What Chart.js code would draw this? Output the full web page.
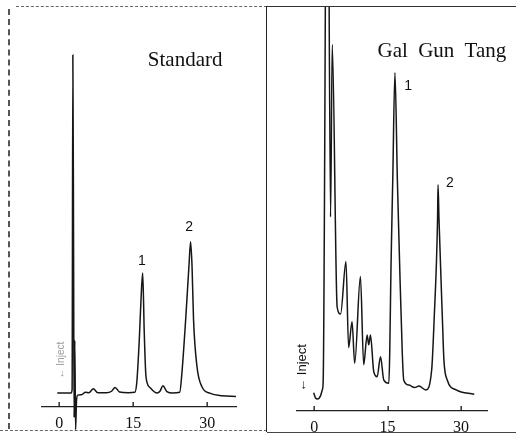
<!DOCTYPE html>
<html>
<head>
<meta charset="utf-8">
<script src="https://cdn.jsdelivr.net/npm/chart.js@4.4.1/dist/chart.umd.min.js"></script>
<style>
  html, body { margin: 0; padding: 0; background: #fff; }
  #page { position: relative; width: 516px; height: 435px; overflow: hidden; }
  canvas { position: absolute; top: 0; }
  .rule { position: absolute; }
</style>
</head>
<body>
<div id="page">
  <div class="rule" style="left:8px;top:9px;height:420px;border-left:2px dashed #555;"></div>
  <div class="rule" style="left:16px;top:6px;width:251px;border-top:1px dashed #666;"></div>
  <div class="rule" style="left:267px;top:6px;width:249px;border-top:1px solid #333;"></div>
  <div class="rule" style="left:0;top:430px;width:267px;border-top:1px dashed #666;"></div>
  <div class="rule" style="left:267px;top:432px;width:249px;border-top:1px solid #444;"></div>
  <div class="rule" style="left:266px;top:6px;height:426px;border-left:1.5px solid #222;"></div>
  <canvas id="standardChart" width="262" height="435" style="left:0"></canvas>
  <canvas id="sampleChart" width="248" height="435" style="left:268px"></canvas>
</div>
<script>
// retention time (min) and detector response (arbitrary units), Standard run
var standardTime = [-0.4, 0, 2.4, 2.6, 2.75, 2.9, 3.0, 3.15, 3.3, 3.5, 3.75, 4.5, 5.3, 6.0, 6.9, 7.8, 9.5, 10.6, 11.3, 12.2, 14.0, 15.3,
  15.7, 16.2, 16.6, 16.9, 17.2, 17.5, 17.8, 18.5, 19.8, 20.4, 21.0, 21.8, 23.0, 24.4,
  24.8, 25.6, 26.3, 26.6, 26.9, 27.2, 27.9, 28.9, 30.6, 33.0, 35.8];
var standardSignal = [0, 0, 0, 1, 96.6, 40, -7, 15, -10.5, -2, -0.6, -0.5, 0.2, 0.1, 1.2, 0.1, 0.1, 0.5, 1.6, 0.3, 0.1, 0.2,
  3, 15, 28, 34.3, 18, 6, 2.9, 1.4, 0, 0.5, 2.1, 0.4, 0, 0.2,
  5, 20.9, 37, 43.2, 36, 20.9, 7.5, 1.8, -0.1, -0.8, -1];

// Gal Gun Tang sample run
var sampleTime = [-0.1, 0.3, 0.7, 1.3, 1.7, 1.85, 2.7, 3.35, 3.7, 4.7, 5.4, 6.5, 7.04, 7.74, 8.28, 9.45, 10.12, 10.82, 11.15, 11.5,
  12.18, 12.87, 13.55, 14.23, 15.26, 15.45, 15.7, 16.05, 16.5, 17.0, 17.45, 18.0, 18.3, 19.4, 20.5, 21.4, 22.8,
  24.0, 24.5, 25.2, 25.3, 25.5, 26.2, 26.5, 27.2, 29.0, 32.7];
var sampleSignal = [1.5, 0, -0.3, 0.6, 2.5, 5, 200, 51.7, 101, 26, 24, 39, 14.4, 21.8, 9.9, 34.7, 9.5, 18.0, 15.2, 18.0,
  7.5, 6.1, 11.8, 5.1, 4.2, 14, 38, 62, 92.9, 62, 38.6, 12.9, 5.1, 3.7, 3.0, 3.4, 2.3,
  8, 22.3, 50.9, 60.9, 50.9, 22.3, 10.9, 5.1, 2.3, 1.1];

var tickValues = [0, 15, 30];

function toPoints(xs, ys) {
  return xs.map(function (x, i) { return { x: x, y: ys[i] }; });
}

// text notes and upward tick marks, placed through the chart scales
function notesPlugin(notes) {
  return {
    id: 'notes',
    afterDatasetsDraw: function (chart) {
      var ctx = chart.ctx, xs = chart.scales.x, ys = chart.scales.y;
      ctx.save();
      ctx.fillStyle = '#111';
      tickValues.forEach(function (t) {
        var px = Math.round(xs.getPixelForValue(t));
        ctx.fillRect(px - 0.5, xs.top - 5, 1.3, 5);
      });
      notes.forEach(function (n) {
        var px = xs.getPixelForValue(n.x), py = ys.getPixelForValue(n.y);
        ctx.save();
        ctx.font = n.font;
        ctx.fillStyle = n.color || '#111';
        ctx.textAlign = 'center';
        ctx.textBaseline = 'middle';
        if (n.spacing) ctx.wordSpacing = n.spacing;
        ctx.translate(px, py);
        if (n.rotate) ctx.rotate(-Math.PI / 2);
        ctx.fillText(n.text, 0, 0);
        ctx.restore();
      });
      ctx.restore();
    }
  };
}

function makeChart(id, time, signal, range, pad, axisHeight, notes, clip) {
  return new Chart(document.getElementById(id).getContext('2d'), {
    type: 'line',
    data: {
      datasets: [{
        data: toPoints(time, signal),
        borderColor: '#161616',
        borderWidth: 1.5,
        pointRadius: 0,
        tension: 0.4,
        cubicInterpolationMode: 'monotone',
        fill: false,
        clip: clip
      }]
    },
    options: {
      responsive: false,
      animation: false,
      layout: { padding: pad },
      scales: {
        x: {
          type: 'linear',
          min: -3.5,
          max: range.xMax,
          afterBuildTicks: function (axis) {
            axis.ticks = tickValues.map(function (v) { return { value: v }; });
          },
          afterFit: function (axis) { axis.height = axisHeight; },
          grid: { display: false, drawTicks: false },
          border: { display: true, color: '#222', width: 1.3 },
          ticks: {
            padding: 7,
            maxRotation: 0,
            autoSkip: false,
            color: '#111',
            font: { family: 'Liberation Serif', size: 16 }
          }
        },
        y: {
          type: 'linear',
          display: false,
          min: range.yMin,
          max: range.yMax
        }
      },
      plugins: {
        legend: { display: false },
        tooltip: { enabled: false }
      }
    },
    plugins: [notesPlugin(notes)]
  });
}

makeChart('standardChart', standardTime, standardSignal,
  { xMax: 35.8, yMin: -4, yMax: 110.3 },
  { left: 42, right: 26, top: 7, bottom: 0 }, 28,
  [
    { text: 'Standard', x: 25.5, y: 94.9, font: '21px "Liberation Serif"' },
    { text: '1', x: 16.75, y: 37.8, font: '14px "Liberation Sans"' },
    { text: '2', x: 26.3, y: 47.4, font: '14px "Liberation Sans"' },
    { text: '\u2190 Inject', x: 0.35, y: 9.4, font: '10px "Liberation Sans"', color: '#999', rotate: true }
  ],
  { left: 0, top: 0, right: 0, bottom: 30 });

makeChart('sampleChart', sampleTime, sampleSignal,
  { xMax: 35.3, yMin: -3.71, yMax: 111.7 },
  { left: 29, right: 29, top: 7, bottom: 0 }, 24,
  [
    { text: 'Gal Gun Tang', x: 26.1, y: 98.9, font: '21px "Liberation Serif"', spacing: '5px' },
    { text: '1', x: 19.2, y: 89.1, font: '14px "Liberation Sans"' },
    { text: '2', x: 27.7, y: 61.4, font: '14px "Liberation Sans"' },
    { text: '\u2190 Inject', x: -2.3, y: 8.6, font: '13px "Liberation Sans"', rotate: true }
  ],
  0);
</script>
</body>
</html>
